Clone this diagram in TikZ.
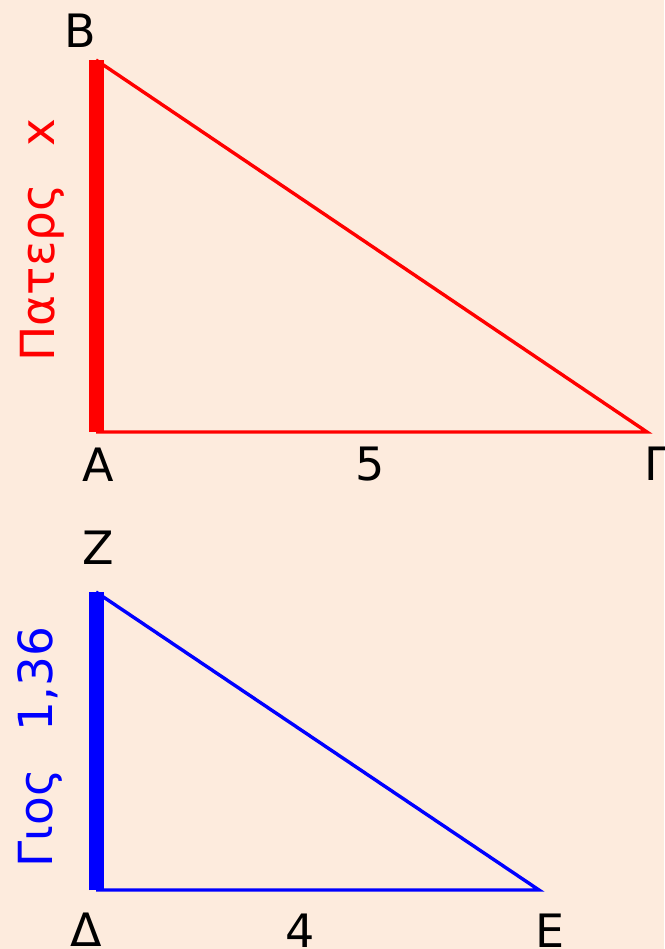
\documentclass[tikz,border=0pt]{standalone}
\usepackage{fontspec}
\setmainfont{DejaVu Sans}
\definecolor{bg}{HTML}{FDEBDD}
\definecolor{myred}{HTML}{FF0000}
\definecolor{myblue}{HTML}{0000FF}
\begin{document}
\begin{tikzpicture}[x=1pt,y=-1pt,
  lbl/.style={font=\fontsize{46}{50}\selectfont, text=black, inner sep=0pt, anchor=center},
  side/.style={font=\fontsize{47}{50}\selectfont, inner sep=0pt, anchor=center, rotate=90},
  thin/.style={line width=3.4pt, line join=miter},
  thick/.style={line width=15pt, line cap=butt}]
\fill[bg] (0,0) rectangle (664,949);
\useasboundingbox (0,0) rectangle (664,949);
% triangle 1
\coordinate (B) at (96,60);
\coordinate (A) at (96,432);
\coordinate (G) at (647,432);
\draw[thin, myred] (B) -- (G) -- (A);
\draw[thick, myred] (A) -- (B);
\node[lbl] (lB) at (80,31) {B};
\node[lbl] (lA) at (98,465) {A};
\node[lbl] (l5) at (370,464) {5};
\node[lbl, anchor=west] (lG) at (644,464) {Γ};
\node[side, text=myred] (lP) at (42,240) {Πατερς\hspace{0.8em}x};
% triangle 2
\coordinate (Z) at (96,592);
\coordinate (D) at (96,890);
\coordinate (E) at (539,890);
\draw[thin, myblue] (Z) -- (E) -- (D);
\draw[thick, myblue] (D) -- (Z);
\node[lbl] (lZ) at (98,548) {Z};
\node[lbl] (lD) at (86,930) {Δ};
\node[lbl] (l4) at (300,931) {4};
\node[lbl] (lE) at (550,931) {E};
\node[side, text=myblue] (lS) at (40,747) {Γιος\hspace{0.8em}1,36};
\end{tikzpicture}
\end{document}
